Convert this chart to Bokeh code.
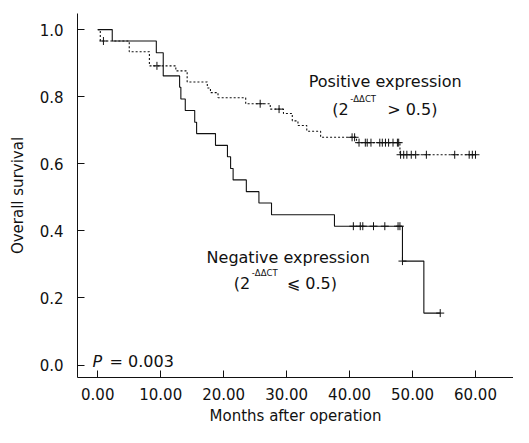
from bokeh.plotting import figure
from bokeh.models import Label, FixedTicker, PrintfTickFormatter, Range1d
from bokeh.embed import file_html
from bokeh.resources import INLINE

# ---- data ----
neg_times = [0, 2.3, 9.3, 10.4, 13.0, 13.2, 13.9, 15.4, 15.7, 18.7, 20.6, 21.1,
             21.5, 23.6, 25.6, 27.6, 37.6, 48.4, 51.8, 54.4]
neg_surv = [1.0, 0.966, 0.931, 0.862, 0.828, 0.793, 0.759, 0.724, 0.690, 0.655,
            0.621, 0.586, 0.552, 0.517, 0.483, 0.448, 0.414, 0.310, 0.155, 0.155]
neg_cens_t = [40.6, 41.7, 42.1, 43.8, 45.6, 47.7, 48.0, 48.4, 54.4]
neg_cens_s = [0.414, 0.414, 0.414, 0.414, 0.414, 0.414, 0.414, 0.310, 0.155]

pos_times = [0, 0.4, 5.0, 8.2, 12.4, 14.2, 17.4, 17.9, 19.1, 23.5, 27.4, 29.5,
             30.9, 31.8, 33.2, 35.4, 41.1, 48.0, 60.0]
pos_surv = [1.0, 0.966, 0.934, 0.892, 0.877, 0.844, 0.826, 0.812, 0.797, 0.779,
            0.763, 0.750, 0.728, 0.714, 0.697, 0.679, 0.663, 0.627, 0.627]
pos_cens_t = [0.9, 9.4, 25.8, 28.8, 40.4, 40.8,
              41.5, 42.5, 42.8, 43.4, 44.8, 45.2, 45.7, 46.2, 46.9, 47.6, 47.8,
              48.1, 48.6, 49.1, 49.8, 50.5, 52.2, 56.7, 59.0, 59.5, 60.0]
pos_cens_s = [0.966, 0.892, 0.779, 0.763, 0.679, 0.679,
              0.663, 0.663, 0.663, 0.663, 0.663, 0.663, 0.663, 0.663, 0.663, 0.663, 0.663,
              0.627, 0.627, 0.627, 0.627, 0.627, 0.627, 0.627, 0.627, 0.627, 0.627]

x_ticks = [0, 10, 20, 30, 40, 50, 60]
y_ticks = [0.0, 0.2, 0.4, 0.6, 0.8, 1.0]

FONT = "DejaVu Sans"
INK = "#111111"

p = figure(width=513, height=427, output_backend="svg", toolbar_location=None,
           x_range=Range1d(-3.22, 66.04), y_range=Range1d(-0.037, 1.048),
           min_border_left=77, min_border_right=0, min_border_top=13,
           min_border_bottom=45)
p.outline_line_color = None
p.grid.visible = False
p.background_fill_color = "white"
p.border_fill_color = "white"

for ax in (p.xaxis[0], p.yaxis[0]):
    ax.axis_line_color = INK
    ax.axis_line_width = 1
    ax.major_tick_line_color = INK
    ax.major_tick_in = 7
    ax.major_tick_out = 0
    ax.minor_tick_line_color = None
    ax.major_label_text_font = FONT
    ax.major_label_text_font_size = "15px"
    ax.major_label_text_color = INK
    ax.axis_label_text_font = FONT
    ax.axis_label_text_font_size = "15px"
    ax.axis_label_text_font_style = "normal"
    ax.axis_label_text_color = INK

p.xaxis.ticker = FixedTicker(ticks=x_ticks)
p.xaxis.formatter = PrintfTickFormatter(format="%.2f")
p.xaxis.axis_label = "Months after operation"
p.xaxis.major_label_standoff = 10
p.xaxis.axis_label_standoff = 4

p.yaxis.ticker = FixedTicker(ticks=y_ticks)
p.yaxis.formatter = PrintfTickFormatter(format="%.1f")
p.yaxis.axis_label = "Overall survival"
p.yaxis.major_label_standoff = 14
p.yaxis.axis_label_standoff = 10

# curves
p.step(neg_times, neg_surv, mode="after", line_color=INK, line_width=1.1)
p.step(pos_times, pos_surv, mode="after", line_color=INK, line_width=1.1,
       line_dash="2 2")
p.scatter(neg_cens_t, neg_cens_s, marker="cross", size=8, line_color=INK,
          line_width=1)
p.scatter(pos_cens_t, pos_cens_s, marker="cross", size=8, line_color=INK,
          line_width=1)


def lab(x, y, text, size="16px", align="left", dx=0, dy=0, style="normal"):
    p.add_layout(Label(x=x, y=y, text=text, x_offset=dx, y_offset=dy,
                       text_font=FONT, text_font_size=size, text_align=align,
                       text_baseline="alphabetic", text_color=INK,
                       text_font_style=style))


# Positive annotation
lab(45.66, 0.846, "Positive expression", align="center")
lab(37.24, 0.763, "(2")
lab(37.24, 0.763, "-ΔΔCT", size="8.5px", dx=18, dy=10.5)
lab(37.24, 0.763, "> 0.5)", dx=55)

# Negative annotation
lab(30.25, 0.3215, "Negative expression", align="center")
lab(21.6, 0.243, "(2")
lab(21.6, 0.243, "-ΔΔCT", size="8.5px", dx=18, dy=10.5)
lab(21.6, 0.243, "⩽ 0.5)", dx=53)

# P value
lab(-0.83, 0.012, "P", style="italic")
lab(-0.83, 0.012, "= 0.003", dx=17)

open("out.html", "w").write(file_html(p, INLINE))
